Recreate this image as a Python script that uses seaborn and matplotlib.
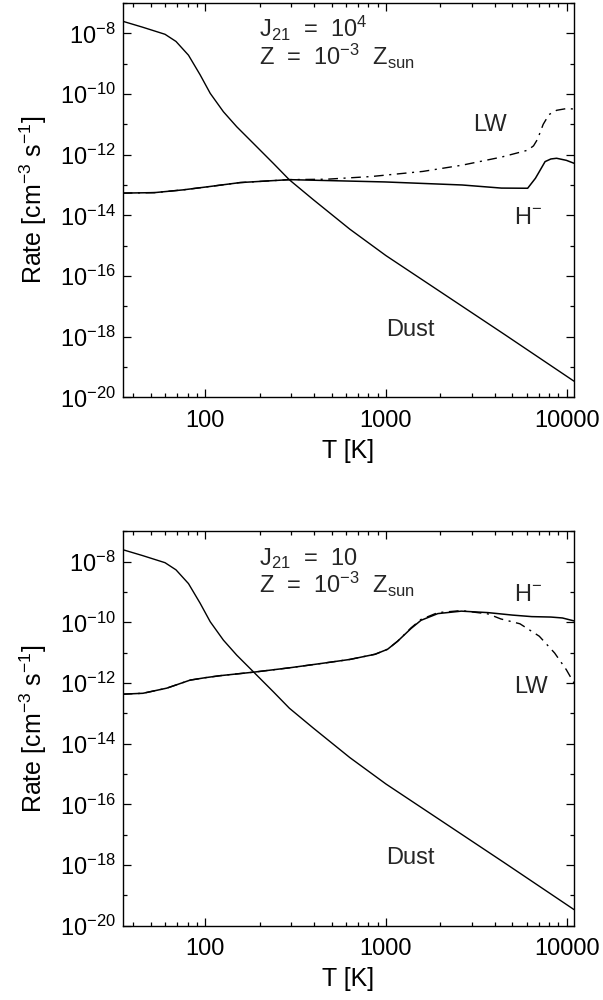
import numpy as np
import pandas as pd
import matplotlib
matplotlib.use("Agg")
import matplotlib.pyplot as plt
import seaborn as sns
from matplotlib.ticker import FixedLocator, FuncFormatter, NullFormatter

# ---------------- data ----------------
T_dust = [35, 45, 60, 69, 80.9, 93.8, 106.7, 126.2, 149.6, 184.9, 238.8, 292.4, 396, 631, 1000, 2020, 4510, 10970]
R_dust = [2.5e-8, 1.6e-8, 9.3e-9, 5.4e-9, 1.9e-9, 4.3e-10, 1.05e-10, 2.6e-11, 8.3e-12, 2.35e-12,
          5.1e-13, 1.48e-13, 3.3e-14, 3.5e-15, 4.7e-16, 2.9e-17, 1.2e-18, 3.4e-20]

# panel 1: J21 = 1e4
T_hm_1 = [35, 52.5, 75.5, 106, 156, 293, 986, 2640, 4350, 6080, 6710, 7050, 7590, 8170, 8790, 9950, 10970]
R_hm_1 = [5.4e-14, 5.6e-14, 6.9e-14, 8.9e-14, 1.2e-13, 1.5e-13, 1.26e-13, 1.0e-13, 7.9e-14, 7.8e-14,
          1.66e-13, 2.75e-13, 5.9e-13, 7.2e-13, 7.6e-13, 6.5e-13, 5.2e-13]
T_lw_1 = [35, 52.5, 75.5, 106, 156, 293, 470, 830, 1600, 2640, 4350, 6080, 6550, 6890, 7410, 7980, 8790, 9950, 10970]
R_lw_1 = [5.4e-14, 5.6e-14, 6.9e-14, 8.9e-14, 1.2e-13, 1.5e-13, 1.55e-13, 1.9e-13, 2.8e-13, 4.5e-13,
          8.3e-13, 1.4e-12, 1.95e-12, 3.2e-12, 1.0e-11, 2.1e-11, 2.9e-11, 3.3e-11, 3.2e-11]

# panel 2: J21 = 10
T_hm_2 = [35, 45.3, 61.4, 82.6, 100, 121, 187, 295, 436, 631, 871, 1021, 1161, 1377, 1563, 1936, 2612,
          3673, 5010, 6400, 8170, 9460, 10970]
R_hm_2 = [4.3e-13, 4.6e-13, 6.8e-13, 1.25e-12, 1.5e-12, 1.75e-12, 2.3e-12, 3.2e-12, 4.4e-12, 6.0e-12,
          8.9e-12, 1.3e-11, 2.4e-11, 6.3e-11, 1.17e-10, 1.95e-10, 2.35e-10, 2.1e-10, 1.74e-10,
          1.55e-10, 1.5e-10, 1.4e-10, 1.12e-10]
T_lw_2 = [35, 45.3, 61.4, 82.6, 100, 121, 187, 295, 436, 631, 871, 1021, 1161, 1377, 1563, 1936, 2612,
          3673, 4320, 5510, 7050, 8570, 9950, 10970]
R_lw_2 = [4.3e-13, 4.6e-13, 6.8e-13, 1.25e-12, 1.5e-12, 1.75e-12, 2.3e-12, 3.2e-12, 4.4e-12, 6.0e-12,
          8.9e-12, 1.3e-11, 2.4e-11, 6.6e-11, 1.25e-10, 2.1e-10, 2.45e-10, 1.9e-10,
          1.3e-10, 9.0e-11, 3.5e-11, 9.8e-12, 2.75e-12, 1.0e-12]

panel_titles = [("J$_{21}$  =  10$^{4}$", "Z  =  10$^{-3}$  Z$_{\\rm sun}$"),
                ("J$_{21}$  =  10", "Z  =  10$^{-3}$  Z$_{\\rm sun}$")]
x_major = [100, 1000, 10000]
x_minor = [40, 50, 60, 70, 80, 90, 200, 300, 400, 500, 600, 700, 800, 900,
           2000, 3000, 4000, 5000, 6000, 7000, 8000, 9000]
y_major_exp = [-20, -18, -16, -14, -12, -10, -8]
y_minor_exp = [-19, -17, -15, -13, -11, -9, -7]

# ---------------- style ----------------
sns.set_theme(style="ticks")
plt.rcParams["font.family"] = ["Liberation Sans", "DejaVu Sans"]
plt.rcParams["mathtext.fontset"] = "custom"
plt.rcParams["mathtext.rm"] = "Liberation Sans"
plt.rcParams["mathtext.it"] = "Liberation Sans"
plt.rcParams["mathtext.default"] = "regular"

FS_TICK = 17
FS_TXT = 17
FS_LAB = 18
fig = plt.figure(figsize=(6.03, 10), dpi=100)
L, W, H = 122.7 / 603, 451.3 / 603, 394.3 / 1000
ax1 = fig.add_axes([L, 1 - 397.3 / 1000, W, H])
ax2 = fig.add_axes([L, 1 - 925.7 / 1000, W, H])

dashdot = (0, (7, 4, 1.5, 4))

panels = [
    (ax1, T_hm_1, R_hm_1, T_lw_1, R_lw_1,
     [("LW", 3055, 10 ** -11.21), ("H$^{-}$", 5120, 10 ** -14.3), ("Dust", 1000, 10 ** -17.98)]),
    (ax2, T_hm_2, R_hm_2, T_lw_2, R_lw_2,
     [("H$^{-}$", 5120, 10 ** -9.31), ("LW", 5120, 10 ** -12.32), ("Dust", 1000, 10 ** -17.98)]),
]

for i, (ax, Th, Rh, Tl, Rl, labels) in enumerate(panels):
    ax.set_xscale("log")
    ax.set_yscale("log")
    sns.lineplot(x=Tl, y=Rl, ax=ax, color="black", lw=1.0, linestyle=dashdot,
                 estimator=None, sort=False)
    sns.lineplot(x=Th, y=Rh, ax=ax, color="black", lw=1.1, estimator=None, sort=False)
    sns.lineplot(x=T_dust, y=R_dust, ax=ax, color="black", lw=1.0, estimator=None, sort=False)

    ax.set_xlim(35, 10970)
    ax.set_ylim(1e-20, 1e-7)

    ax.xaxis.set_major_locator(FixedLocator(x_major))
    ax.xaxis.set_major_formatter(FuncFormatter(lambda v, p: "%d" % round(v)))
    ax.xaxis.set_minor_locator(FixedLocator(x_minor))
    ax.xaxis.set_minor_formatter(NullFormatter())
    ax.yaxis.set_major_locator(FixedLocator([10.0 ** e for e in y_major_exp]))
    ax.yaxis.set_major_formatter(FuncFormatter(lambda v, p: r"$10^{%d}$" % round(np.log10(v))))
    ax.yaxis.set_minor_locator(FixedLocator([10.0 ** e for e in y_minor_exp]))
    ax.yaxis.set_minor_formatter(NullFormatter())

    ax.tick_params(which="both", direction="in", top=True, right=True, width=0.9, color="black",
                   labelsize=FS_TICK, labelcolor="black")
    ax.tick_params(which="major", length=6)
    ax.tick_params(which="minor", length=3)
    ax.tick_params(axis="x", which="major", pad=9)
    ax.tick_params(axis="y", which="major", pad=5)
    for s in ax.spines.values():
        s.set_linewidth(1.0)
        s.set_color("black")

    ax.set_xlabel("T [K]", fontsize=FS_LAB, labelpad=5, color="black")
    ax.set_ylabel("Rate [cm$^{-3}$ s$^{-1}$]", fontsize=FS_LAB, labelpad=8, color="black")

    ax.text(198, 10 ** -8.11, panel_titles[i][0], fontsize=FS_TXT, ha="left", va="baseline")
    ax.text(198, 10 ** -9.04, panel_titles[i][1], fontsize=FS_TXT, ha="left", va="baseline")
    for txt, tx, ty in labels:
        ax.text(tx, ty, txt, fontsize=FS_TXT, ha="left", va="baseline")

fig.savefig("out.png", dpi=100)
